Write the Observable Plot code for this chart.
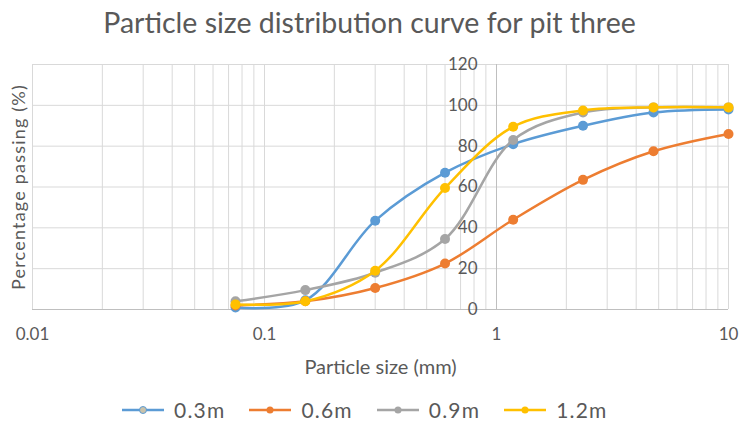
<!DOCTYPE html>
<html>
<head>
<meta charset="utf-8">
<script src="https://cdn.jsdelivr.net/npm/d3@7"></script>
<script src="https://cdn.jsdelivr.net/npm/@observablehq/plot@0.6"></script>
<style>
  html, body { margin: 0; padding: 0; background: #fff; }
  #wrap { position: relative; width: 739px; height: 426px; font-family: Lato, "Open Sans", sans-serif; color: #595959; }
  #title { position: absolute; left: 0; top: 4px; width: 739px; text-align: center; font-size: 28.5px; line-height: 36px; }
  #chart { position: absolute; left: 0; top: 50px; }
  #legend { position: absolute; left: 0; top: 396px; width: 739px; display: flex; justify-content: flex-start; gap: 24px; padding-left: 122px; box-sizing: border-box; font-size: 21px; line-height: 28px; letter-spacing: 1.2px; }
  .item { display: flex; align-items: center; gap: 10px; }
  .item svg { display: block; }
  .ylabel { letter-spacing: 1.2px; }
</style>
</head>
<body>
<div id="wrap">
  <div id="title">Particle size distribution curve for pit three</div>
  <div id="chart"></div>
  <div id="legend"></div>
</div>
<script>
// Sieve sizes (mm) and percentage passing at each sampling depth
const sizes = [0.075, 0.15, 0.3, 0.6, 1.18, 2.36, 4.75, 10];
const depths = ["0.3m", "0.6m", "0.9m", "1.2m"];
const pass03 = [1, 4.5, 43.5, 67, 81, 90, 96.5, 98];
const pass06 = [2, 4, 10.5, 22.5, 44, 63.5, 77.5, 86];
const pass09 = [4, 9.5, 18, 34.5, 83, 96.5, 99, 99];
const pass12 = [2.5, 4, 19, 59.5, 89.5, 97.5, 99, 99];
const colors = ["#5B9BD5", "#ED7D31", "#A5A5A5", "#FFC000"];

// Axis ticks
const xTicks = [0.01, 0.1, 1, 10];
const yTicks = [0, 20, 40, 60, 80, 100, 120];

const passing = [pass03, pass06, pass09, pass12];
const series = depths.map((depth, i) => ({
  depth,
  color: colors[i],
  rows: sizes.map((s, j) => ({size: s, pct: passing[i][j]}))
}));

// Logarithmic grid: every 1..9 × 10^k inside the domain
const gridX = [];
for (let k = -2; k <= 0; k++) for (let m = 1; m <= 9; m++) gridX.push(m * Math.pow(10, k));
gridX.push(10);

const ink = "#595959";
const font = "Lato, 'Open Sans', sans-serif";
const yTitle = "Percentage passing (%)";

const marks = [
  Plot.ruleX(gridX, {x: d => d, stroke: "#d9d9d9", strokeWidth: 1}),
  Plot.ruleY(yTicks.slice(1), {y: d => d, stroke: "#d9d9d9", strokeWidth: 1}),
  Plot.ruleY([0], {stroke: "#bfbfbf", strokeWidth: 1}),
  Plot.ruleX([1], {stroke: "#bfbfbf", strokeWidth: 1}),
  // value axis sits on x = 1, labels to its left
  Plot.text(yTicks, {x: () => 1, y: d => d, text: d => String(d), textAnchor: "end", dx: -19, fill: ink, fontSize: 17}),
  Plot.text(xTicks, {x: d => d, frameAnchor: "bottom", dy: 25, text: d => String(d), fill: ink, fontSize: 17, lineAnchor: "middle"}),
  Plot.text(["Particle size (mm)"], {frameAnchor: "bottom", dy: 58, fill: ink, fontSize: 20, lineAnchor: "middle", textAnchor: "middle"}),
  Plot.text([yTitle], {frameAnchor: "left", dx: -13, rotate: -90, fill: ink, fontSize: 18, lineAnchor: "middle", textAnchor: "middle"})
];

for (const s of series) {
  marks.push(Plot.line(s.rows, {x: "size", y: "pct", stroke: s.color, strokeWidth: 2.5, curve: "catmull-rom"}));
  marks.push(Plot.dot(s.rows, {x: "size", y: "pct", r: 5, fill: s.color, stroke: "none"}));
}

const chart = Plot.plot({
  width: 739,
  height: 335,
  marginLeft: 32,
  marginRight: 11,
  marginTop: 14,
  marginBottom: 76,
  style: {fontFamily: font, color: ink, overflow: "visible"},
  x: {type: "log", domain: [0.01, 10], axis: null},
  y: {domain: [0, 120], axis: null},
  marks
});
// slightly spaced lettering on the vertical axis title
chart.querySelectorAll("text").forEach(t => { if (t.textContent === yTitle) t.setAttribute("class", "ylabel"); });
document.getElementById("chart").appendChild(chart);

// Legend
const legend = document.getElementById("legend");
series.forEach((s, i) => {
  const item = document.createElement("div");
  item.className = "item";
  const markerFill = i === 0 ? "#c9c2aa" : s.color;
  item.innerHTML =
    `<svg width="42" height="12"><line x1="0" y1="6" x2="42" y2="6" stroke="${s.color}" stroke-width="2.5"/>` +
    `<circle cx="21" cy="6" r="3.5" fill="${markerFill}" stroke="${i === 0 ? s.color : "none"}" stroke-width="1"/></svg>` +
    `<span>${s.depth}</span>`;
  legend.appendChild(item);
});
</script>
</body>
</html>
